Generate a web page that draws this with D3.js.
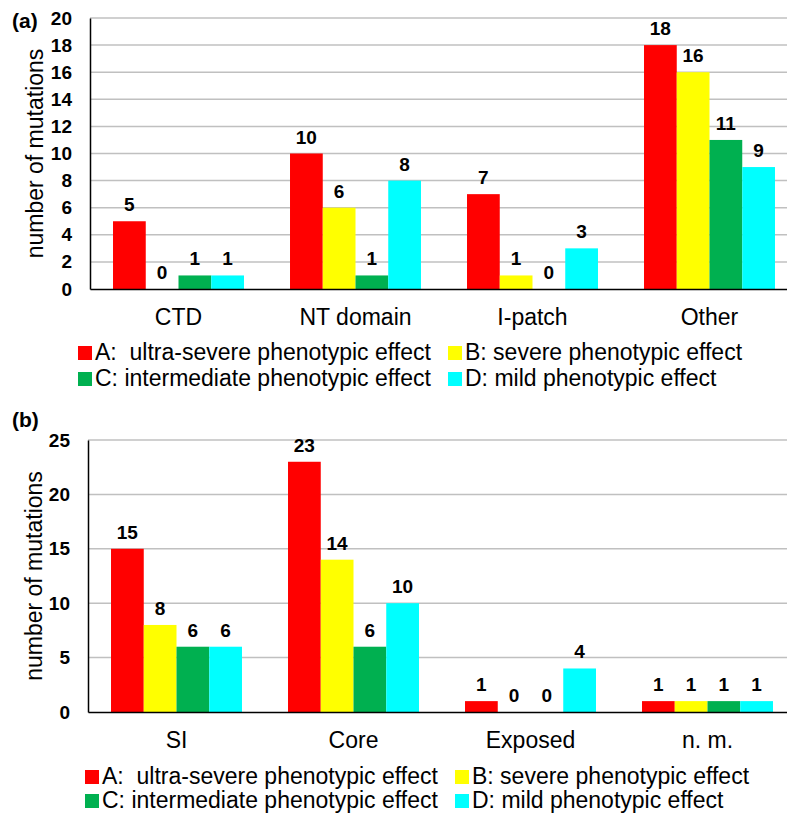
<!DOCTYPE html>
<html>
<head>
<meta charset="utf-8">
<title>Mutations by region</title>
<style>
  body { margin: 0; background: #fff; }
  text { font-family: Arial, "Liberation Sans", sans-serif; fill: #000; }
</style>
</head>
<body>
<div id="chart"></div>
<script src="https://d3js.org/d3.v7.min.js"></script>
<script>
// panel (a)
const categoriesA = ["CTD", "NT domain", "I-patch", "Other"];
const ultraA = [5, 10, 7, 18];
const severeA = [0, 6, 1, 16];
const intermediateA = [1, 1, 0, 11];
const mildA = [1, 8, 3, 9];
const ticksA = [0, 2, 4, 6, 8, 10, 12, 14, 16, 18, 20];

// panel (b)
const categoriesB = ["SI", "Core", "Exposed", "n. m."];
const ultraB = [15, 23, 1, 1];
const severeB = [8, 14, 0, 1];
const intermediateB = [6, 6, 0, 1];
const mildB = [6, 10, 4, 1];
const ticksB = [0, 5, 10, 15, 20, 25];

const seriesNames = [
  "A:  ultra-severe phenotypic effect",
  "B: severe phenotypic effect",
  "C: intermediate phenotypic effect",
  "D: mild phenotypic effect"
];
const colors = ["#ff0000", "#ffff00", "#00b050", "#00ffff"];

const svg = d3.select("#chart").append("svg")
  .attr("width", 787)
  .attr("height", 815);

function drawPanel(opt) {
  const g = svg.append("g");
  const series = opt.series;

  const x = d3.scaleBand()
    .domain(opt.categories)
    .range([opt.left, opt.right])
    .paddingInner(0.26)
    .paddingOuter(0.13);
  const x1 = d3.scaleBand()
    .domain(d3.range(series.length))
    .range([0, x.bandwidth()]);
  const y = d3.scaleLinear()
    .domain([0, d3.max(opt.ticks)])
    .range([opt.bottom, opt.top]);

  // gridlines
  g.selectAll(".grid")
    .data(opt.ticks.slice(1))
    .join("line")
      .attr("x1", opt.left)
      .attr("x2", opt.right)
      .attr("y1", d => y(d))
      .attr("y2", d => y(d))
      .attr("stroke", "#c0c0c0")
      .attr("stroke-width", 1.5);

  // bars
  const groups = g.selectAll(".grp")
    .data(opt.categories)
    .join("g")
      .attr("transform", d => `translate(${x(d)},0)`);

  groups.each(function(cat, ci) {
    const sel = d3.select(this);
    series.forEach((vals, si) => {
      const v = vals[ci];
      if (v > 0) {
        sel.append("rect")
          .attr("x", x1(si))
          .attr("width", x1.bandwidth())
          .attr("y", y(v))
          .attr("height", y(0) - y(v))
          .attr("fill", colors[si]);
      }
      sel.append("text")
        .attr("x", x1(si) + x1.bandwidth() / 2)
        .attr("y", y(v) - 10)
        .attr("text-anchor", "middle")
        .attr("font-size", 19)
        .attr("font-weight", "bold")
        .text(v);
    });
  });

  // y axis
  const yAxis = g.append("g")
    .attr("transform", `translate(${opt.left},0)`)
    .call(d3.axisLeft(y).tickValues(opt.ticks).tickSize(0).tickPadding(18));
  yAxis.select(".domain").attr("stroke", "#000").attr("stroke-width", 1.5);
  yAxis.selectAll("text")
    .attr("font-size", 19)
    .attr("font-weight", "bold")
    .attr("font-family", null);

  // x axis
  const xAxis = g.append("g")
    .attr("transform", `translate(0,${opt.bottom})`)
    .call(d3.axisBottom(x).tickSize(0).tickPadding(20));
  xAxis.select(".domain").attr("stroke", "#000").attr("stroke-width", 1.5);
  xAxis.selectAll("text")
    .attr("font-size", 23)
    .attr("font-family", null);

  // y label
  g.append("text")
    .attr("transform", `translate(${opt.labelX},${(opt.top + opt.bottom) / 2}) rotate(-90)`)
    .attr("text-anchor", "middle")
    .attr("font-size", 23)
    .text("number of mutations");

  // panel tag
  g.append("text")
    .attr("x", 12)
    .attr("y", opt.tagY)
    .attr("font-size", 21)
    .attr("font-weight", "bold")
    .text(opt.tag);

  // legend
  const leg = g.selectAll(".leg")
    .data(seriesNames)
    .join("g")
      .attr("transform", (d, i) =>
        `translate(${opt.legendX[i % 2]},${opt.legendY[Math.floor(i / 2)]})`);
  leg.append("rect")
    .attr("x", 0)
    .attr("y", -14)
    .attr("width", 14)
    .attr("height", 14)
    .attr("fill", (d, i) => colors[i]);
  leg.append("text")
    .attr("x", 17)
    .attr("y", 0)
    .attr("font-size", 23)
    .style("white-space", "pre")
    .text(d => d);
}

drawPanel({
  categories: categoriesA,
  series: [ultraA, severeA, intermediateA, mildA],
  ticks: ticksA,
  left: 90, right: 798, top: 18, bottom: 289,
  labelX: 43, tag: "(a)", tagY: 28,
  legendX: [78, 448], legendY: [360, 386]
});

drawPanel({
  categories: categoriesB,
  series: [ultraB, severeB, intermediateB, mildB],
  ticks: ticksB,
  left: 88, right: 796, top: 440, bottom: 712,
  labelX: 42, tag: "(b)", tagY: 427,
  legendX: [85, 455], legendY: [784, 808]
});
</script>
</body>
</html>
